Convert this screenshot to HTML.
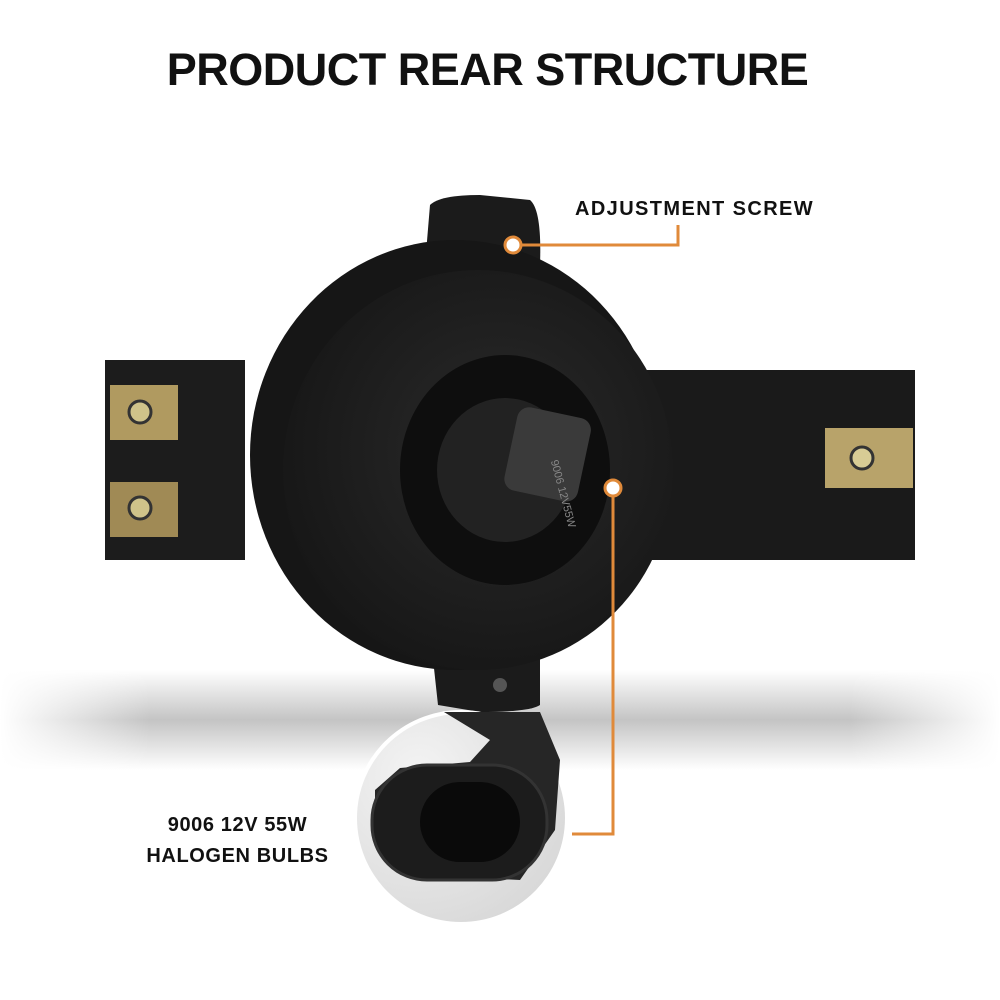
<!DOCTYPE html>
<html><head><meta charset="utf-8"><style>
html,body{margin:0;padding:0;background:#fff}
body{width:1000px;height:1000px;position:relative;overflow:hidden;font-family:"Liberation Sans",sans-serif}
.t{position:absolute;font-weight:bold;color:#111}
</style></head><body>
<svg width="1000" height="1000" style="position:absolute;left:0;top:0">
<defs>
<linearGradient id="sh" x1="0" y1="0" x2="0" y2="1">
<stop offset="0" stop-color="#fff"/><stop offset="0.5" stop-color="#c4c4c4"/><stop offset="1" stop-color="#fff"/>
</linearGradient>
<linearGradient id="shx" x1="0" y1="0" x2="1" y2="0">
<stop offset="0" stop-color="#fff" stop-opacity="1"/><stop offset="0.15" stop-color="#fff" stop-opacity="0"/><stop offset="0.85" stop-color="#fff" stop-opacity="0"/><stop offset="1" stop-color="#fff" stop-opacity="1"/>
</linearGradient>
<radialGradient id="bd" cx="0.55" cy="0.45" r="0.6">
<stop offset="0" stop-color="#2a2a2a"/><stop offset="1" stop-color="#161616"/>
</radialGradient>
<radialGradient id="inset" cx="0.3" cy="0.3" r="0.8">
<stop offset="0" stop-color="#f4f4f4"/><stop offset="1" stop-color="#d8d8d8"/>
</radialGradient>
</defs>
<rect x="0" y="670" width="1000" height="100" fill="url(#sh)"/>
<rect x="0" y="670" width="1000" height="100" fill="url(#shx)"/>
<!-- left bracket -->
<rect x="105" y="360" width="140" height="200" fill="#1c1c1c"/>
<rect x="110" y="385" width="68" height="55" fill="#b09a60"/>
<rect x="110" y="482" width="68" height="55" fill="#a08a55"/>
<circle cx="140" cy="412" r="11" fill="#cfc38a" stroke="#333" stroke-width="3"/>
<circle cx="140" cy="508" r="11" fill="#cfc38a" stroke="#333" stroke-width="3"/>
<!-- right bracket -->
<rect x="620" y="370" width="295" height="190" fill="#1a1a1a"/>
<rect x="825" y="428" width="88" height="60" fill="#b8a36a"/>
<circle cx="862" cy="458" r="11" fill="#d8cc95" stroke="#333" stroke-width="3"/>
<!-- top and bottom tabs -->
<path d="M425 265 L430 205 Q440 195 480 195 L530 200 Q542 210 540 265 Z" fill="#1b1b1b"/>
<path d="M432 650 L540 650 L540 705 Q530 712 480 712 L438 705 Z" fill="#1b1b1b"/>
<circle cx="500" cy="685" r="7" fill="#555"/>
<!-- body -->
<ellipse cx="455" cy="455" rx="205" ry="215" fill="#161616"/>
<ellipse cx="478" cy="470" rx="195" ry="200" fill="url(#bd)"/>
<ellipse cx="505" cy="470" rx="105" ry="115" fill="#0e0e0e"/>
<ellipse cx="505" cy="470" rx="68" ry="72" fill="#222"/>
<rect x="510" y="412" width="75" height="85" rx="12" fill="#3a3a3a" transform="rotate(12 548 455)"/>
<text x="540" y="465" fill="#888" font-size="11" transform="rotate(75 548 470)" font-family="Liberation Sans">9006 12V55W</text>
<!-- inset circle -->
<circle cx="461" cy="818" r="108" fill="#fff"/>
<circle cx="461" cy="818" r="104" fill="url(#inset)"/>
<path d="M444 712 L540 712 L560 760 L555 830 L520 880 L420 875 L375 840 L375 790 L400 768 L470 762 L490 740 Z" fill="#262626"/>
<rect x="372" y="765" width="175" height="115" rx="55" fill="#1c1c1c" stroke="#333" stroke-width="3"/>
<rect x="420" y="782" width="100" height="80" rx="40" fill="#0a0a0a"/>
<!-- callouts -->
<polyline points="513,245 678,245 678,225" fill="none" stroke="#e08a3a" stroke-width="3"/>
<circle cx="513" cy="245" r="8" fill="#fff" stroke="#e08a3a" stroke-width="3"/>
<polyline points="613,488 613,834 572,834" fill="none" stroke="#e08a3a" stroke-width="3"/>
<circle cx="613" cy="488" r="8" fill="#fff" stroke="#e08a3a" stroke-width="3"/>
</svg>
<div class="t" style="left:0;width:975px;text-align:center;top:44px;font-size:45px;letter-spacing:-0.5px">PRODUCT REAR STRUCTURE</div>
<div class="t" style="left:575px;top:198px;font-size:20px;letter-spacing:1.4px">ADJUSTMENT SCREW</div>
<div class="t" style="left:130px;top:810px;font-size:20px;text-align:center;width:215px;line-height:31px;letter-spacing:0.6px">9006 12V 55W<br>HALOGEN BULBS</div>
</body></html>
